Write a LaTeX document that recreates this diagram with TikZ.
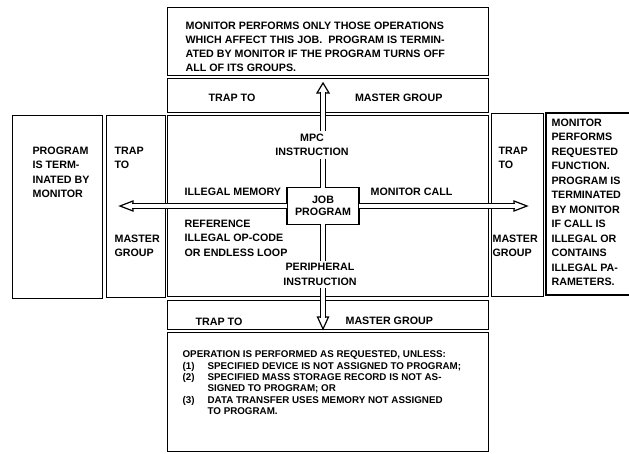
\documentclass[tikz,border=0pt]{standalone}
\usepackage{fontspec}
\setmainfont{Liberation Sans}
\usetikzlibrary{positioning}

\begin{document}
\begin{tikzpicture}[x=1pt,y=-1pt,line width=1.2pt,
    box/.style={draw,anchor=north west,inner sep=0pt},
    lbl/.style={inner sep=0pt,align=left,font=\bfseries\fontsize{10.7}{14.5}\selectfont},
    shaft/.style={draw,line width=1.2pt,double=white,double distance=4pt},
    head/.style={draw,fill=white,line width=1.2pt,line join=miter}]
    \useasboundingbox (0,0) rectangle (629,454);
    % boxes
    \node[box,minimum width=321pt,minimum height=68pt] (topbox) at (167,7) {};
    \node[box,minimum width=321pt,minimum height=34pt] (topbar) at (167,78) {};
    \node[box,minimum width=321pt,minimum height=181pt] (centre) at (167,115) {};
    \node[box,minimum width=321pt,minimum height=29pt] (botbar) at (167,300) {};
    \node[box,minimum width=321pt,minimum height=119pt] (botbox) at (167,332) {};
    \node[box,minimum width=90pt,minimum height=183pt] (progbox) at (12,115) {};
    \node[box,minimum width=59pt,minimum height=182pt] (ltrap) at (106,115) {};
    \node[box,minimum width=52pt,minimum height=183pt] (rtrap) at (491,113) {};
    \draw (629,113) -- (546,113) -- (546,295) -- (629,295);
    \node[draw,inner sep=0pt,minimum width=72pt,minimum height=37pt,align=center,
          font=\bfseries\fontsize{10.7}{12}\selectfont] (job) at (323,206) {JOB\\PROGRAM};
    % arrow tips
    \coordinate (ltip) at (120,206);
    \coordinate (rtip) at (527,206);
    \coordinate (ttip) at (323,83);
    \coordinate (btip) at (323,329);
    \draw[head] (ltip) -- ++(13,-5) -- ++(0,10) -- cycle;
    \draw[head] (rtip) -- ++(-13,-5) -- ++(0,10) -- cycle;
    \draw[head] (ttip) -- ++(-6,10) -- ++(12,0) -- cycle;
    \draw[head] (btip) -- ++(-5.5,-12) -- ++(11,0) -- cycle;
    % labels
    \node[lbl,align=center,outer sep=3pt] (mpc) at (312,145) {MPC\\INSTRUCTION};
    \node[lbl,align=center,outer sep=3pt] (periph) at (320,274.5) {PERIPHERAL\\INSTRUCTION};
    \node[lbl,anchor=north west,font=\bfseries\fontsize{10.7}{14}\selectfont] (toptext) at (185,21.2)
        {MONITOR PERFORMS ONLY THOSE OPERATIONS\\WHICH AFFECT THIS JOB.\ \ PROGRAM IS TERMIN-\\ATED BY MONITOR IF THE PROGRAM TURNS OFF\\ALL OF ITS GROUPS.};
    \node[lbl,anchor=west] (toptrap) at (208,98) {TRAP TO};
    \node[lbl,anchor=east] (topmaster) at (443,98) {MASTER GROUP};
    \node[lbl,anchor=west] (illmem) at (184,192) {ILLEGAL MEMORY};
    \node[lbl,anchor=north west] (illref) at (184,219.2) {REFERENCE\\ILLEGAL OP-CODE\\OR ENDLESS LOOP};
    \node[lbl,anchor=west] (moncall) at (370,192) {MONITOR CALL};
    \node[lbl,anchor=north west] (progtext) at (32,146.2) {PROGRAM\\IS TERM-\\INATED BY\\MONITOR};
    \node[lbl,anchor=north west] (ltrapto) at (114,146.2) {TRAP\\TO};
    \node[lbl,anchor=north west] (lmaster) at (114,234.2) {MASTER\\GROUP};
    \node[lbl,anchor=north west] (rtrapto) at (498,146.2) {TRAP\\TO};
    \node[lbl,anchor=north west] (rmaster) at (492,234.2) {MASTER\\GROUP};
    \node[lbl,anchor=north west] (rtext) at (551,118.2)
        {MONITOR\\PERFORMS\\REQUESTED\\FUNCTION.\\PROGRAM IS\\TERMINATED\\BY MONITOR\\IF CALL IS\\ILLEGAL OR\\CONTAINS\\ILLEGAL PA-\\RAMETERS.};
    \node[lbl,anchor=west] (bottrap) at (195,322) {TRAP TO};
    \node[lbl,anchor=west] (botmaster) at (345,321) {MASTER GROUP};
    \node[lbl,anchor=north west,font=\bfseries\fontsize{9.8}{11.3}\selectfont] (bottext) at (182,350.5)
        {OPERATION IS PERFORMED AS REQUESTED, UNLESS:\\
         \makebox[25pt][l]{(1)}SPECIFIED DEVICE IS NOT ASSIGNED TO PROGRAM;\\
         \makebox[25pt][l]{(2)}SPECIFIED MASS STORAGE RECORD IS NOT AS-\\
         \hspace*{25pt}SIGNED TO PROGRAM; OR\\
         \makebox[25pt][l]{(3)}DATA TRANSFER USES MEMORY NOT ASSIGNED\\
         \hspace*{25pt}TO PROGRAM.};
    % connectors
    \draw[shaft] ([xshift=1pt]job.west) -- ([xshift=12pt]ltip);
    \draw[shaft] ([xshift=-1pt]job.east) -- ([xshift=-12pt]rtip);
    \draw[shaft] ([yshift=-1pt]job.north) -- (job.north |- mpc.south);
    \draw[shaft] (job.north |- mpc.north) -- ([yshift=-9pt]ttip);
    \draw[shaft] ([yshift=1pt]job.south) -- (job.south |- periph.north);
    \draw[shaft] (job.south |- periph.south) -- ([yshift=11pt]btip);
\end{tikzpicture}
\end{document}
